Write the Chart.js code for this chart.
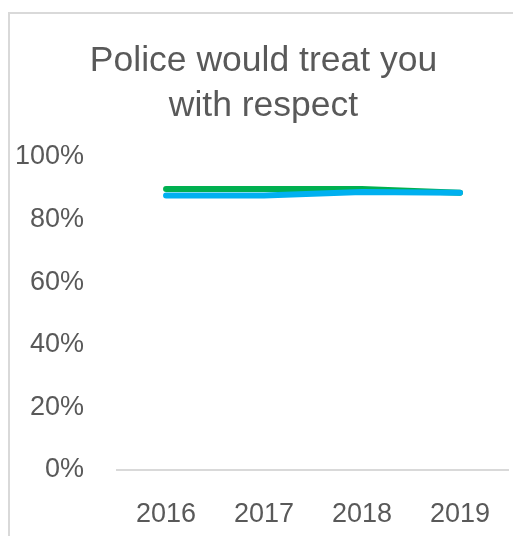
<!DOCTYPE html>
<html>
<head>
<meta charset="utf-8">
<script src="https://cdn.jsdelivr.net/npm/chart.js@4/dist/chart.umd.min.js"></script>
<style>
  html, body { margin: 0; padding: 0; background: #fff; overflow: hidden; width: 513px; height: 536px; position: relative; }
  #frame { position: absolute; left: 8px; top: 12px; width: 620px; height: 620px;
           border-left: 2px solid #d9d9d9; border-top: 2px solid #d9d9d9; }
  #wrap { position: absolute; left: -40px; top: 0; width: 551px; height: 562px; }
</style>
</head>
<body>
<div id="frame"></div>
<div id="wrap"><canvas id="chart"></canvas></div>
<script>
// years and survey shares (fraction of respondents)
const years = ['2016', '2017', '2018', '2019'];
const greenSeries = [0.898, 0.898, 0.898, 0.886];
const blueSeries = [0.877, 0.877, 0.888, 0.886];
const yTicks = [0, 0.2, 0.4, 0.6, 0.8, 1];

const textColor = '#595959';
const fontFamily = '"Liberation Sans", Arial, sans-serif';

// nudge the title a bit right, like the original which centres it over the whole frame
const titleShift = {
  id: 'titleShift',
  afterLayout(chart) {
    const t = chart.titleBlock;
    if (t) { t.left += 13; t.right += 13; }
  }
};

new Chart(document.getElementById('chart'), {
  type: 'line',
  data: {
    labels: years,
    datasets: [
      // blue first so it is drawn on top of green
      {
        label: 'Blue',
        data: blueSeries,
        borderColor: '#00B0F0',
        borderWidth: 6,
        borderCapStyle: 'round',
        pointRadius: 0,
        tension: 0
      },
      {
        label: 'Green',
        data: greenSeries,
        borderColor: '#00B050',
        borderWidth: 6,
        borderCapStyle: 'round',
        pointRadius: 0,
        tension: 0
      }
    ]
  },
  options: {
    responsive: true,
    maintainAspectRatio: false,
    animation: false,
    layout: { padding: { left: 30, right: 0, top: 39, bottom: 10 } },
    plugins: {
      legend: { display: false },
      tooltip: { enabled: false },
      title: {
        display: true,
        text: ['Police would treat you', 'with respect'],
        color: textColor,
        font: { family: fontFamily, size: 35.5, weight: 'normal', lineHeight: 1.268 },
        padding: { top: 0, bottom: 28 }
      }
    },
    scales: {
      x: {
        offset: true,
        grid: { display: false },
        border: { display: true, color: '#d9d9d9', width: 2 },
        ticks: {
          color: textColor,
          font: { family: fontFamily, size: 27 },
          padding: 21
        }
      },
      y: {
        min: 0,
        max: 1,
        afterBuildTicks: (axis) => { axis.ticks = yTicks.map(v => ({ value: v })); },
        grid: { display: false },
        border: { display: false },
        ticks: {
          color: textColor,
          font: { family: fontFamily, size: 27 },
          padding: 25,
          callback: (v) => Math.round(v * 100) + '%'
        }
      }
    }
  },
  plugins: [titleShift]
});
</script>
</body>
</html>
